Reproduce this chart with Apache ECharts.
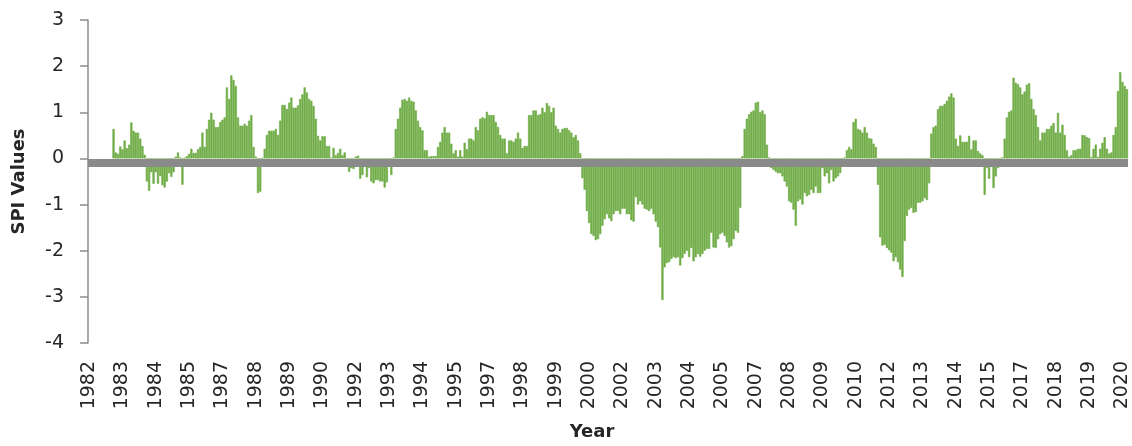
<!DOCTYPE html>
<html>
<head>
<meta charset="utf-8">
<script src="https://cdn.jsdelivr.net/npm/echarts@6/dist/echarts.min.js"></script>
<style>
  html, body { margin: 0; padding: 0; background: #ffffff; }
  #chart { width: 1132px; height: 446px; }
</style>
</head>
<body>
<div id="chart"></div>
<script>
// Monthly SPI values, January 1982 to December 2020 (one row per year).
const firstYear = 1982;
const lastYear = 2020;

const spi1980s = [
  null, null, null, null, null, null, null, null, null, null, null, 0.64,      // 1982
  0.13, 0.10, 0.26, 0.20, 0.39, 0.22, 0.30, 0.78, 0.60, 0.56, 0.56, 0.43,      // 1983
  0.27, 0.08, -0.50, -0.70, -0.30, -0.55, -0.30, -0.55, -0.38, -0.58, -0.63, -0.50, // 1984
  -0.32, -0.40, -0.30, 0.04, 0.13, 0.02, -0.57, 0.01, 0.05, 0.10, 0.21, 0.12,  // 1985
  0.12, 0.20, 0.25, 0.56, 0.25, 0.64, 0.84, 0.99, 0.84, 0.68, 0.68, 0.79,      // 1986
  0.84, 0.89, 1.54, 1.29, 1.80, 1.70, 1.57, 0.89, 0.71, 0.71, 0.75, 0.71,      // 1987
  0.82, 0.94, 0.25, 0.04, -0.75, -0.72, 0.01, 0.21, 0.51, 0.60, 0.60, 0.60,    // 1988
  0.64, 0.51, 0.82, 1.16, 1.16, 1.07, 1.21, 1.32, 1.10, 1.10, 1.15, 1.29       // 1989
];

const spi1990s = [
  1.39, 1.54, 1.43, 1.29, 1.25, 1.14, 0.86, 0.49, 0.39, 0.48, 0.48, 0.27,      // 1990
  0.27, 0.01, 0.23, 0.07, 0.12, 0.21, 0.07, 0.13, -0.04, -0.29, -0.21, -0.23,  // 1991
  0.04, 0.06, -0.44, -0.36, -0.18, -0.41, -0.21, -0.50, -0.54, -0.47, -0.47, -0.50, // 1992
  -0.50, -0.63, -0.52, -0.18, -0.36, 0.02, 0.64, 0.86, 1.10, 1.27, 1.29, 1.25, // 1993
  1.32, 1.25, 1.23, 1.04, 0.82, 0.68, 0.61, 0.18, 0.18, 0.04, 0.05, 0.05,      // 1994
  0.05, 0.25, 0.36, 0.56, 0.68, 0.56, 0.56, 0.32, 0.11, 0.18, 0.04, 0.18,      // 1995
  0.04, 0.34, 0.20, 0.43, 0.43, 0.39, 0.68, 0.61, 0.86, 0.89, 0.87, 1.01,      // 1996
  0.94, 0.94, 0.94, 0.79, 0.68, 0.51, 0.43, 0.43, 0.11, 0.39, 0.39, 0.36,      // 1997
  0.43, 0.56, 0.43, 0.23, 0.27, 0.27, 0.94, 0.94, 1.04, 1.04, 0.94, 0.96,      // 1998
  1.10, 1.00, 1.20, 1.14, 1.00, 1.10, 0.71, 0.64, 0.56, 0.64, 0.66, 0.66       // 1999
];

const spi2000s = [
  0.61, 0.56, 0.46, 0.51, 0.39, 0.11, -0.43, -0.68, -1.14, -1.40, -1.64, -1.68,       // 2000
  -1.77, -1.75, -1.64, -1.46, -1.32, -1.21, -1.30, -1.36, -1.21, -1.14, -1.14, -1.21, // 2001
  -1.09, -1.09, -1.21, -1.21, -1.34, -1.37, -0.84, -1.00, -0.93, -1.00, -1.09, -1.11, // 2002
  -1.14, -1.09, -1.21, -1.37, -1.49, -1.93, -3.07, -2.36, -2.27, -2.25, -2.18, -2.14, // 2003
  -2.16, -2.14, -2.32, -2.16, -2.07, -2.00, -2.14, -1.94, -2.23, -2.14, -2.07, -2.13, // 2004
  -2.07, -2.00, -1.96, -1.96, -1.61, -1.93, -1.94, -1.75, -1.64, -1.61, -1.68, -1.82, // 2005
  -1.93, -1.90, -1.75, -1.57, -1.61, -1.07, 0.05, 0.64, 0.86, 0.96, 1.01, 1.04,       // 2006
  1.21, 1.23, 1.00, 1.04, 0.96, 0.30, 0.02, -0.21, -0.25, -0.29, -0.32, -0.32,        // 2007
  -0.39, -0.50, -0.61, -0.93, -0.96, -1.11, -1.46, -0.93, -0.89, -1.00, -0.75, -0.82, // 2008
  -0.79, -0.68, -0.75, -0.61, -0.75, -0.75, -0.21, -0.39, -0.32, -0.54, -0.25, -0.50  // 2009
];

const spi2010s = [
  -0.43, -0.39, -0.32, -0.02, 0.02, 0.18, 0.25, 0.20, 0.79, 0.86, 0.64, 0.62,         // 2010
  0.56, 0.68, 0.56, 0.44, 0.43, 0.32, 0.25, -0.57, -1.71, -1.89, -1.87, -1.94,        // 2011
  -1.99, -2.04, -2.23, -2.14, -2.25, -2.41, -2.57, -1.79, -1.25, -1.11, -1.07, -1.18, // 2012
  -1.16, -0.96, -0.96, -0.93, -0.86, -0.90, -0.54, 0.54, 0.68, 0.71, 1.07, 1.14,      // 2013
  1.14, 1.18, 1.25, 1.34, 1.41, 1.32, 0.43, 0.27, 0.50, 0.36, 0.36, 0.36,             // 2014
  0.49, 0.20, 0.39, 0.39, 0.16, 0.11, 0.07, -0.79, -0.21, -0.44, -0.15, -0.64,        // 2015
  -0.39, -0.21, -0.18, 0.02, 0.43, 0.89, 1.01, 1.04, 1.75, 1.64, 1.61, 1.54,          // 2016
  1.39, 1.45, 1.60, 1.63, 1.29, 1.07, 0.94, 0.68, 0.39, 0.56, 0.56, 0.64,             // 2017
  0.64, 0.71, 0.77, 0.56, 0.99, 0.56, 0.73, 0.51, 0.18, 0.04, 0.07, 0.18,             // 2018
  0.18, 0.21, 0.21, 0.51, 0.50, 0.46, 0.44, 0.03, 0.21, 0.30, 0.03, 0.21              // 2019
];

const spi2020 = [
  0.34, 0.46, 0.21, 0.11, 0.13, 0.51, 0.68, 1.46, 1.87, 1.66, 1.57, 1.50             // 2020
];

// Month categories ("1982-01" ...); the axis shows the year of every 15th month.
const months = [];
for (let y = firstYear; y <= lastYear; y++) {
  for (let m = 1; m <= 12; m++) months.push(y + '-' + String(m).padStart(2, '0'));
}
const spiValues = [].concat(spi1980s, spi1990s, spi2000s, spi2010s, spi2020);

const textColor = '#262626';
const axisGrey = '#8c8c8c';
const barGreen = '#70ad47';
const font = 'DejaVu Sans';

const chart = echarts.init(document.getElementById('chart'), null, { renderer: 'canvas' });
chart.setOption({
  animation: false,
  backgroundColor: '#ffffff',
  grid: { left: 88, right: 4, top: 20, bottom: 99 },
  xAxis: {
    type: 'category',
    data: months,
    axisLine: { show: false, onZero: false },
    axisTick: { show: false },
    splitLine: { show: false },
    axisLabel: {
      interval: 14,
      rotate: 90,
      margin: 18,
      fontFamily: font,
      fontSize: 19,
      color: textColor,
      formatter: (v) => v.slice(0, 4)
    },
    name: 'Year',
    nameLocation: 'middle',
    nameGap: 80,
    nameTextStyle: {
      fontFamily: font, fontWeight: 'bold', fontSize: 18, color: textColor,
      padding: [0, 32, 0, 0]
    }
  },
  yAxis: {
    type: 'value',
    min: -4,
    max: 3,
    interval: 1,
    axisLine: { show: true, lineStyle: { color: axisGrey, width: 1.5 } },
    axisTick: { show: true, inside: false, length: 8, lineStyle: { color: axisGrey, width: 1.5 } },
    splitLine: { show: false },
    axisLabel: { margin: 24, fontFamily: font, fontSize: 19, color: textColor },
    name: 'SPI Values',
    nameLocation: 'middle',
    nameGap: 60,
    nameRotate: 90,
    nameTextStyle: { fontFamily: font, fontWeight: 'bold', fontSize: 18, color: textColor }
  },
  series: [{
    name: 'SPI',
    type: 'bar',
    data: spiValues,
    barCategoryGap: '0%',
    // a hairline border in the fill colour closes the anti-aliasing seams between months
    itemStyle: { color: barGreen, borderColor: barGreen, borderWidth: 0.6 },
    // thick grey band just below the zero line
    markLine: {
      silent: true,
      symbol: 'none',
      label: { show: false },
      lineStyle: { color: '#8a8a8a', width: 8, type: 'solid' },
      data: [{ yAxis: -0.09 }]
    }
  }]
});
</script>
</body>
</html>
